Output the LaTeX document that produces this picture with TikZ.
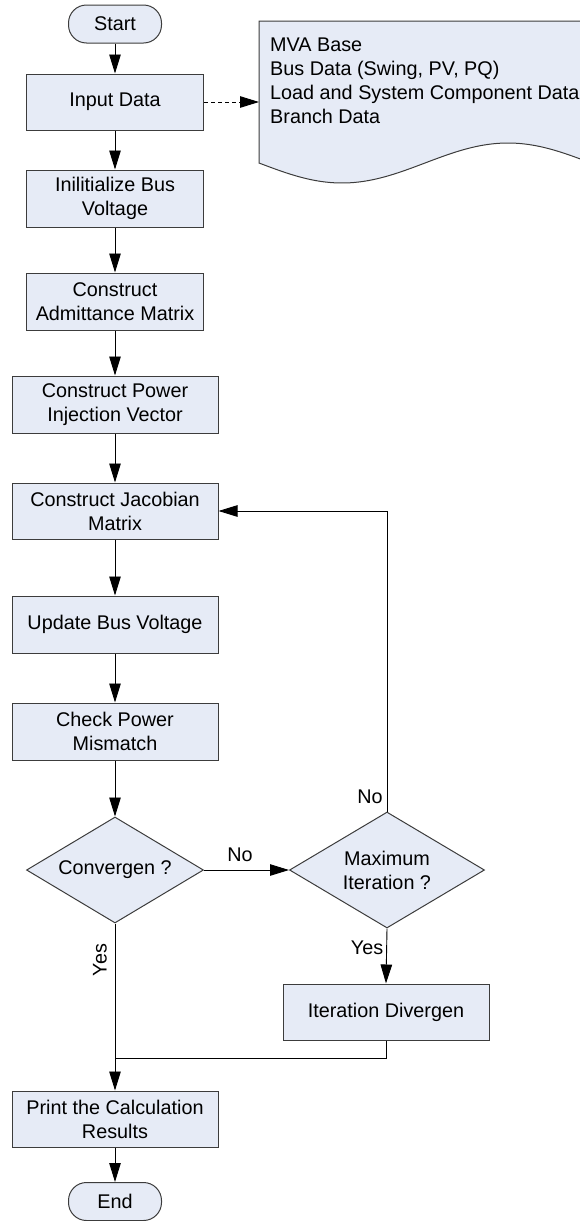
\documentclass[tikz,border=0pt]{standalone}
\usepackage{fontspec}
\setmainfont{Liberation Sans}
\usetikzlibrary{shapes.geometric,arrows.meta}
\definecolor{boxfill}{RGB}{230,235,246}
\definecolor{boxline}{RGB}{60,60,60}
\begin{document}
\begin{tikzpicture}[x=1pt,y=-1pt,
  every node/.style={font=\fontsize{19.8}{24}\selectfont},
  procbox/.style={draw=boxline,fill=boxfill,line width=1pt,rectangle,align=center,inner sep=0pt},
  termbox/.style={draw=boxline,fill=boxfill,line width=1pt,rectangle,rounded corners=18pt,minimum width=93pt,minimum height=38pt,inner sep=0pt},
  decbox/.style={draw=boxline,fill=boxfill,line width=1pt,diamond,align=center,inner sep=0pt},
  arr/.style={line width=0.9pt,-{Triangle[length=19pt,width=11.5pt]}},
  conn/.style={line width=0.9pt},
  lbl/.style={inner sep=0pt}]
\useasboundingbox (0,0) rectangle (580,1221);
\begin{scope}
\clip (0,0) rectangle (580,1221);
% document shape
\filldraw[draw=boxline,fill=boxfill,line width=1pt]
  (259,163) -- (259,21) -- (591,21) -- (591,163)
  -- plot[domain=332:0,samples=60,smooth] ({259+\x},{163+20*sin(1.0843*\x)}) -- cycle;
\end{scope}
\coordinate (docL) at (259,102);
\node[lbl,anchor=west,align=left] (doctext) at (270,81) {MVA Base\\Bus Data (Swing, PV, PQ)\\Load and System Component Data\\Branch Data};

\node[termbox] (start) at (115,24) {Start};
\node[procbox,minimum width=177pt,minimum height=56pt] (input) at (115,102) {Input Data};
\node[procbox,minimum width=177pt,minimum height=57pt] (init) at (115,198.5) {Inilitialize Bus\\Voltage};
\node[procbox,minimum width=177pt,minimum height=57pt] (adm) at (115,301.5) {Construct\\Admittance Matrix};
\node[procbox,minimum width=206pt,minimum height=57pt] (pow) at (115,404.5) {Construct Power\\Injection Vector};
\node[procbox,minimum width=206pt,minimum height=56pt] (jac) at (115,511) {Construct Jacobian\\Matrix};
\node[procbox,minimum width=206pt,minimum height=57pt] (upd) at (115,624.5) {Update Bus Voltage};
\node[procbox,minimum width=206pt,minimum height=57pt] (chk) at (115,731.5) {Check Power\\Mismatch};
\node[decbox,minimum width=177pt,minimum height=106pt,aspect=1.67] (conv) at (115,870) {Convergen ?};
\node[decbox,minimum width=195pt,minimum height=116pt,aspect=1.68] (max) at (387,870) {Maximum\\Iteration ?};
\node[procbox,minimum width=206pt,minimum height=56pt] (itdiv) at (386,1012) {Iteration Divergen};
\node[procbox,minimum width=206pt,minimum height=56pt] (print) at (115,1119) {Print the Calculation\\Results};
\node[termbox] (end) at (115,1201.5) {End};
\coordinate (join) at (115,1058);

\draw[arr] (start) -- (input);
\draw[arr,dash pattern=on 4pt off 3pt] (input.east) -- (docL);
\draw[arr] (input) -- (init);
\draw[arr] (init) -- (adm);
\draw[arr] (adm) -- (pow);
\draw[arr] (pow) -- (jac);
\draw[arr] (jac) -- (upd);
\draw[arr] (upd) -- (chk);
\draw[arr] (chk) -- (conv);
\draw[arr] (conv.east) -- (max.west);
\draw[arr] (max.north) |- (jac.east);
\draw[arr] (max.south) -- (itdiv.north);
\draw[conn] (itdiv.south) |- (join);
\draw[arr] (conv.south) -- (print.north);
\draw[arr] (print) -- (end);

\node[lbl] (lno1) at (240,855) {No};
\node[lbl] (lno2) at (370,797) {No};
\node[lbl] (lyes1) at (367,948) {Yes};
\node[lbl,rotate=90] (lyes2) at (100,960) {Yes};
\end{tikzpicture}
\end{document}
